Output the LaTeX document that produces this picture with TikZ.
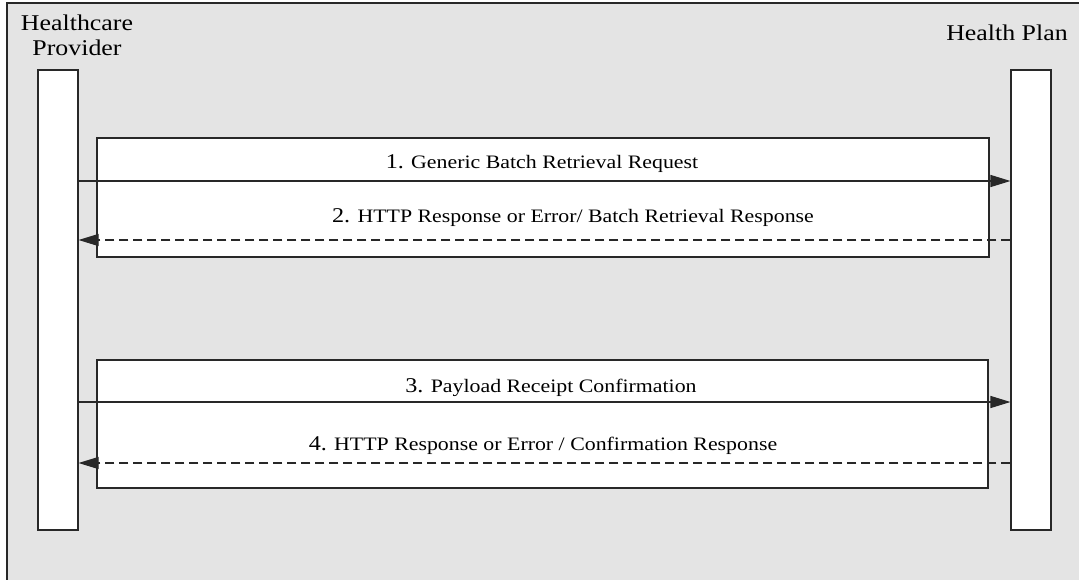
\documentclass[tikz,border=0pt]{standalone}
\usepackage{fontspec}
\setmainfont{Liberation Serif}[FakeStretch=1.15]
\usetikzlibrary{arrows.meta}
\definecolor{bgc}{RGB}{228,228,228}
\definecolor{linec}{RGB}{40,40,40}
\tikzset{
  edge/.style={draw=linec, line width=1.1pt},
  lifeline/.style={edge, fill=white, inner sep=0pt, minimum width=40pt, minimum height=460pt},
  framebox/.style={edge, fill=white, inner sep=0pt},
  msg/.style={edge, line width=1.3pt, -{Triangle[length=20pt,width=12pt]}},
  reply/.style={edge, dash pattern=on 9pt off 5pt, -{Triangle[length=20pt,width=12pt]}},
  lbl/.style={anchor=base, inner sep=0pt, font=\fontsize{19}{22}\selectfont},
  head/.style={anchor=base, inner sep=0pt, font=\fontsize{22.5}{25}\selectfont},
}
\newcommand{\numb}[1]{{\fontsize{21}{24}\selectfont #1}}
\begin{document}
\begin{tikzpicture}[x=1pt,y=-1pt]
\useasboundingbox (0,0) rectangle (1079,579);
\clip (0,0) rectangle (1079,579);
\path[fill=bgc] (7,3) rectangle (1090,590);
\draw[edge] (7,590) -- (7,3) -- (1090,3);

\node[head] (hc1) at (77,30) {Healthcare};
\node[head] (hc2) at (77,55) {Provider};
\node[head] (hpl) at (1007,40) {Health Plan};

\node[lifeline] (hc) at (58,300) {};
\node[lifeline] (hp) at (1031,300) {};

\node[framebox, minimum width=892pt, minimum height=119pt] (f1) at (543,197.5) {};
\node[framebox, minimum width=891pt, minimum height=128pt] (f2) at (542.5,424) {};

\draw[msg] (hc.east |- 0,181) -- (hp.west |- 0,181);
\draw[reply] (hp.west |- 0,240) -- (hc.east |- 0,240);
\draw[msg] (hc.east |- 0,402) -- (hp.west |- 0,402);
\draw[reply] (hp.west |- 0,463) -- (hc.east |- 0,463);

\node[lbl] (l1) at (542,168) {\numb{1.} Generic Batch Retrieval Request};
\node[lbl] (l2) at (573,222) {\numb{2.} HTTP Response or Error/ Batch Retrieval Response};
\node[lbl] (l3) at (551,392) {\numb{3.} Payload Receipt Confirmation};
\node[lbl] (l4) at (543,450) {\numb{4.} HTTP Response or Error / Confirmation Response};
\end{tikzpicture}
\end{document}
